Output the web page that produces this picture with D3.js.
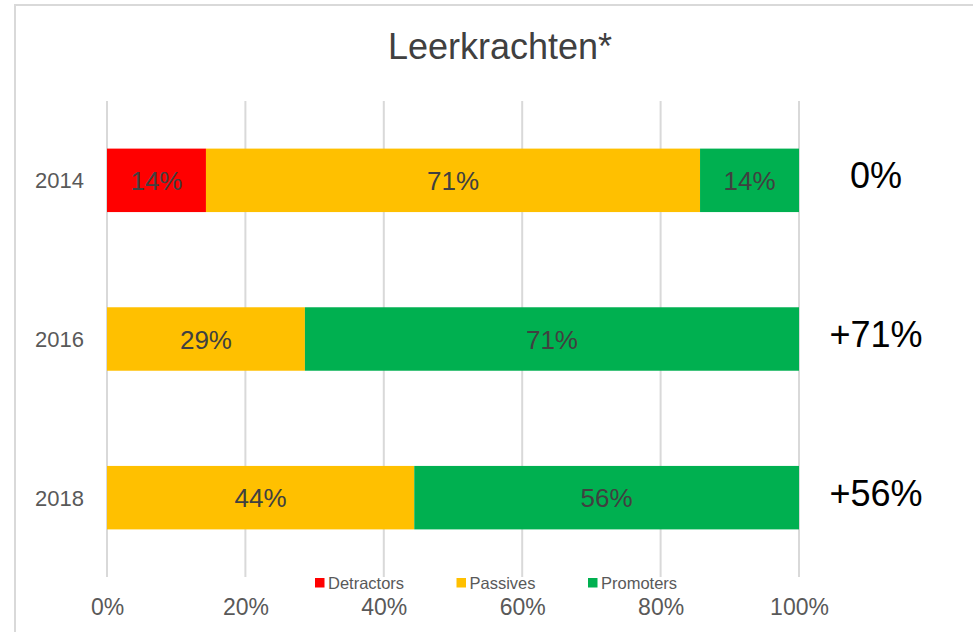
<!DOCTYPE html>
<html>
<head>
<meta charset="utf-8">
<script src="https://cdn.jsdelivr.net/npm/d3@7"></script>
<style>
  html, body { margin: 0; padding: 0; background: #fff; }
  svg { display: block; font-family: "Liberation Sans", Arial, sans-serif; }
</style>
</head>
<body>
<svg id="chart" width="973" height="632"></svg>
<script>
const title = "Leerkrachten*";
const years = ["2014", "2016", "2018"];
const seriesNames = ["Detractors", "Passives", "Promoters"];
const detractors = [0.143, 0, 0];
const passives = [0.714, 0.286, 0.444];
const promoters = [0.143, 0.714, 0.556];
const npsLabels = ["0%", "+71%", "+56%"];
const tickValues = [0, 0.2, 0.4, 0.6, 0.8, 1.0];
const colors = ["#FF0000", "#FFC000", "#00B050"];

const rows = years.map((y, i) => ({
  year: y,
  Detractors: detractors[i],
  Passives: passives[i],
  Promoters: promoters[i]
}));
const pct = d3.format(".0%");

const svg = d3.select("#chart");

// chart border
svg.append("rect")
  .attr("x", 15).attr("y", 5).attr("width", 990).attr("height", 660)
  .attr("fill", "none").attr("stroke", "#d9d9d9").attr("stroke-width", 2);

const plotTop = 101, plotBottom = 577;
const x = d3.scaleLinear().domain([0, 1]).range([107, 799]);
const y = d3.scaleBand().domain(years).range([plotTop, plotBottom]).paddingInner(0.6).paddingOuter(0.3);

// gridlines
svg.append("g").selectAll("line").data(tickValues).join("line")
  .attr("x1", d => x(d)).attr("x2", d => x(d))
  .attr("y1", plotTop).attr("y2", plotBottom)
  .attr("stroke", "#d9d9d9").attr("stroke-width", 2);

// title
svg.append("text").attr("x", 500).attr("y", 59)
  .attr("text-anchor", "middle").attr("font-size", 36).attr("fill", "#404040")
  .text(title);

// stacked bars
const stacked = d3.stack().keys(seriesNames)(rows);
const color = d3.scaleOrdinal().domain(seriesNames).range(colors);

const layers = svg.append("g").selectAll("g").data(stacked).join("g")
  .attr("fill", d => color(d.key));
layers.selectAll("rect").data(d => d.filter(v => v[1] > v[0])).join("rect")
  .attr("x", v => x(v[0]))
  .attr("y", v => y(v.data.year))
  .attr("width", v => x(v[1]) - x(v[0]))
  .attr("height", y.bandwidth());

// data labels
const lbl = svg.append("g");
stacked.forEach(layer => {
  layer.forEach(v => {
    const val = v[1] - v[0];
    if (val <= 0) return;
    lbl.append("text")
      .attr("x", x((v[0] + v[1]) / 2))
      .attr("y", y(v.data.year) + y.bandwidth() / 2 + 9.5)
      .attr("text-anchor", "middle")
      .attr("font-size", 26).attr("fill", "#404040")
      .text(pct(val));
  });
});

// year labels
svg.append("g").selectAll("text").data(years).join("text")
  .attr("x", 84).attr("y", d => y(d) + y.bandwidth() / 2 + 8)
  .attr("text-anchor", "end")
  .attr("font-size", 22).attr("fill", "#595959")
  .text(d => d);

// NPS labels on right
svg.append("g").selectAll("text").data(years).join("text")
  .attr("x", x(1) + 77).attr("y", d => y(d) + y.bandwidth() / 2 + 8)
  .attr("text-anchor", "middle")
  .attr("font-size", 36).attr("fill", "#000")
  .text((d, i) => npsLabels[i]);

// x axis tick labels
const xAxis = d3.axisBottom(x).tickValues(tickValues).tickFormat(d3.format(".0%")).tickSize(0).tickPadding(0);
const ax = svg.append("g").attr("transform", "translate(0,615)").call(xAxis);
ax.select(".domain").remove();
ax.selectAll("text").attr("font-size", 23).attr("fill", "#595959")
  .attr("font-family", "Liberation Sans, Arial, sans-serif").attr("dy", 0);

// legend
const legendX = [315, 456.5, 588];
const leg = svg.append("g").selectAll("g").data(seriesNames).join("g")
  .attr("transform", (d, i) => `translate(${legendX[i]},578)`);
leg.append("rect").attr("x", 0).attr("y", 0).attr("width", 9.5).attr("height", 9.5)
  .attr("fill", d => color(d));
leg.append("text").attr("x", 13).attr("y", 11)
  .attr("font-size", 16.5).attr("fill", "#595959").text(d => d);
</script>
</body>
</html>
